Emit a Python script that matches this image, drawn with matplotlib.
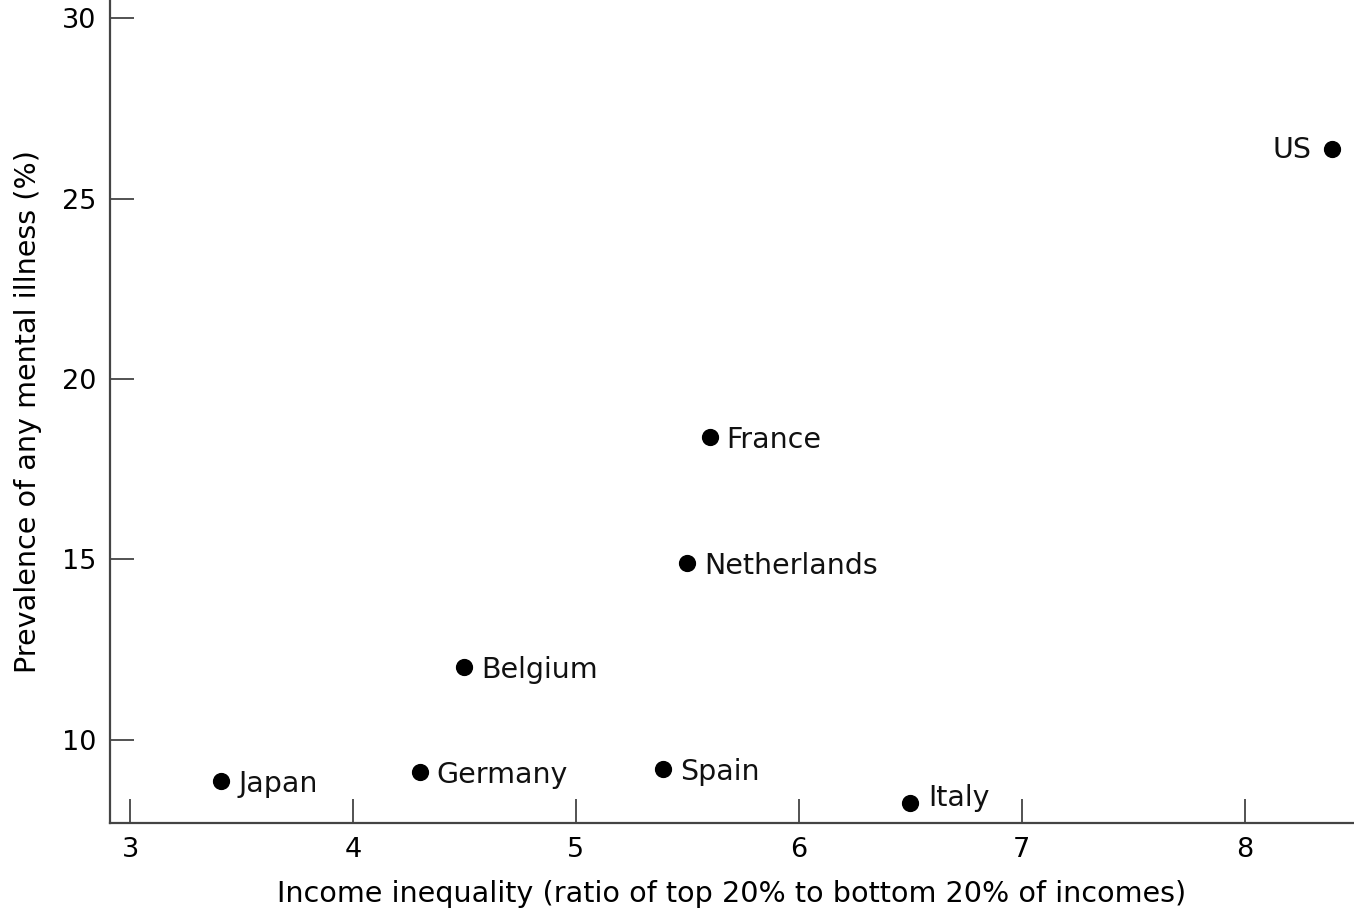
import matplotlib; matplotlib.use("Agg")
import matplotlib.pyplot as plt

plt.rcParams.update({"font.family": "DejaVu Sans", "font.size": 19})

countries = ["Japan", "Germany", "Belgium", "Spain", "Netherlands", "France", "Italy", "US"]
inequality = [3.41, 4.30, 4.50, 5.39, 5.50, 5.60, 6.50, 8.39]
prevalence = [8.86, 9.11, 12.02, 9.2, 14.9, 18.4, 8.25, 26.37]

# label offsets in pixels (dx, dy) and alignment; US sits to the left of its dot
label_style = {"US": ((-20, -1), "right"), "Italy": ((18, 5), "left")}

fig = plt.figure(figsize=(13.54, 9.14), dpi=100)
ax = fig.add_axes([0.0812, 0.0996, 0.9188, 0.9004])
ax.scatter(inequality, prevalence, s=130, color="black", zorder=3)
for name, x, y in zip(countries, inequality, prevalence):
    off, ha = label_style.get(name, ((17, -3), "left"))
    ax.annotate(name, (x, y), xytext=off, textcoords="offset pixels",
                ha=ha, va="center", fontsize=20.5, color="#111")

ax.set_xlim(2.91, 8.49)
ax.set_ylim(7.70, 30.5)
ax.set_xticks([3, 4, 5, 6, 7, 8])
ax.set_yticks([10, 15, 20, 25, 30])
for s in ("top", "right"):
    ax.spines[s].set_visible(False)
for s in ("left", "bottom"):
    ax.spines[s].set_color("#444")
    ax.spines[s].set_linewidth(1.6)
ax.tick_params(direction="in", length=17, width=1.3, color="#444", labelsize=19.5, pad=10)
ax.set_xlabel("Income inequality (ratio of top 20% to bottom 20% of incomes)", fontsize=20.6, labelpad=12)
ax.set_ylabel("Prevalence of any mental illness (%)", fontsize=20.6, labelpad=14)

fig.savefig("out.png", dpi=100)
